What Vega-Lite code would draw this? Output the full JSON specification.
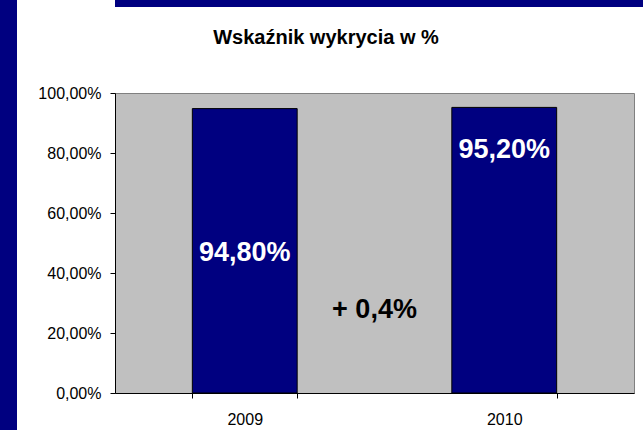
{
  "$schema": "https://vega.github.io/schema/vega-lite/v6.json",
  "background": "white",
  "padding": 0,
  "spacing": 0,
  "config": {
    "locale": {
      "number": {"decimal": ",", "thousands": "\u00a0", "grouping": [3], "currency": ["", " zł"]}
    }
  },
  "hconcat": [
    {
      "width": 17,
      "height": 430,
      "view": {"fill": "#000080", "stroke": null},
      "data": {"values": []},
      "mark": {"type": "rect"},
      "encoding": {}
    },
    {
      "spacing": 20,
      "vconcat": [
        {
          "width": 528,
          "height": 7,
          "view": {"fill": "#000080", "stroke": null},
          "data": {"values": []},
          "mark": {"type": "rect"},
          "encoding": {}
        },
        {
          "spacing": 0,
          "vconcat": [
            {
              "width": 519,
              "height": 300,
              "view": {"fill": "#C0C0C0", "stroke": "#808080", "strokeWidth": 1},
              "title": {
                "text": "Wskaźnik wykrycia w %",
                "font": "Liberation Sans",
                "fontSize": 20,
                "fontWeight": "bold",
                "color": "black",
                "anchor": "middle",
                "frame": "bounds",
                "offset": 37
              },
              "data": {"values": [
                {"year": "2009", "value": 0.948},
                {"year": "2010", "value": 0.952}
              ]},
              "layer": [
                {
                  "mark": {"type": "bar", "fill": "#000080", "stroke": "black", "strokeWidth": 1},
                  "encoding": {
                    "x": {
                      "field": "year", "type": "nominal",
                      "scale": {"paddingInner": 0.596, "paddingOuter": 0.298},
                      "axis": {
                        "title": null, "labelAngle": 0, "tickBand": "extent", "tickSize": 5,
                        "tickColor": "black", "domainColor": "black", "labelColor": "black",
                        "labelFont": "Liberation Sans", "labelFontSize": 16, "labelPadding": 13,
                        "zindex": 1
                      }
                    },
                    "y": {
                      "field": "value", "type": "quantitative",
                      "scale": {"domain": [0, 1], "nice": false},
                      "axis": {
                        "title": null, "values": [0, 0.2, 0.4, 0.6, 0.8, 1], "format": ".2%",
                        "grid": false, "tickSize": 5, "tickColor": "black", "domainColor": "black",
                        "labelColor": "black", "labelFont": "Liberation Sans", "labelFontSize": 16,
                        "labelPadding": 9, "minExtent": 97, "zindex": 1
                      }
                    }
                  }
                },
                {
                  "transform": [{"filter": "datum.year == '2009'"}],
                  "mark": {"type": "text", "color": "white", "font": "Liberation Sans", "fontSize": 27, "fontWeight": "bold", "baseline": "middle", "dy": 144},
                  "encoding": {
                    "x": {"field": "year", "type": "nominal"},
                    "y": {"field": "value", "type": "quantitative"},
                    "text": {"field": "value", "type": "quantitative", "format": ".2%"}
                  }
                },
                {
                  "transform": [{"filter": "datum.year == '2010'"}],
                  "mark": {"type": "text", "color": "white", "font": "Liberation Sans", "fontSize": 27, "fontWeight": "bold", "baseline": "middle", "dy": 43},
                  "encoding": {
                    "x": {"field": "year", "type": "nominal"},
                    "y": {"field": "value", "type": "quantitative"},
                    "text": {"field": "value", "type": "quantitative", "format": ".2%"}
                  }
                },
                {
                  "data": {"values": [{"label": "+ 0,4%", "pos": 0.277}]},
                  "mark": {"type": "text", "color": "black", "font": "Liberation Sans", "fontSize": 27, "fontWeight": "bold", "baseline": "middle"},
                  "encoding": {
                    "y": {"field": "pos", "type": "quantitative"},
                    "text": {"field": "label", "type": "nominal"}
                  }
                }
              ]
            }
          ]
        }
      ]
    }
  ]
}
